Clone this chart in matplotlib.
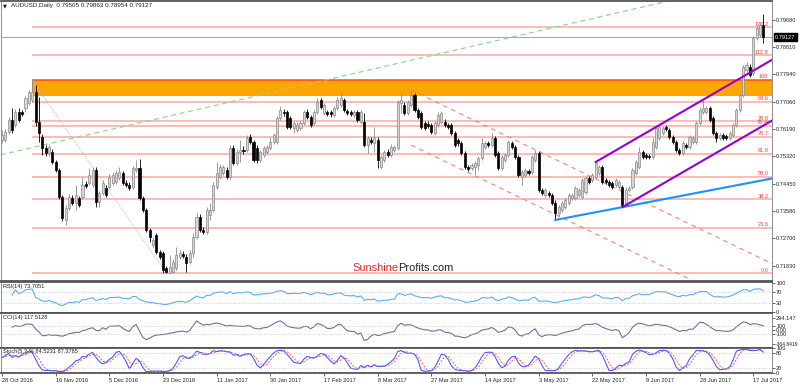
import numpy as np
import pandas as pd
import matplotlib
matplotlib.use("Agg")
import matplotlib.pyplot as plt
from matplotlib.patches import Rectangle
import matplotlib.transforms as mtransforms

plt.rcParams['font.family'] = ['Liberation Sans', 'DejaVu Sans']

# ---------------- data (AUDUSD daily) ----------------
open_ = [.7584,.7584,.7610,.7648,.7632,.7674,.7674,.7686,.7702,.7712,
         .7738,.7642,.7594,.7558,.7542,.7546,.7514,.7488,.7402,.7328,
         .7366,.7398,.7382,.7398,.7402,.7443,.7446,.7440,.7488,.7386,
         .7415,.7430,.7434,.7446,.7450,.7462,.7478,.7446,.7440,.7434,
         .7488,.7494,.7398,.7360,.7296,.7248,.7280,.7226,.7222,.7174,
         .7160,.7163,.7175,.7211,.7220,.7211,.7195,.7223,.7275,.7338,
         .7297,.7290,.7345,.7361,.7434,.7466,.7479,.7489,.7466,.7559,
         .7511,.7546,.7553,.7553,.7594,.7578,.7559,.7521,.7537,.7546,
         .7559,.7578,.7578,.7655,.7674,.7674,.7655,.7623,.7617,.7623,
         .7639,.7674,.7658,.7639,.7674,.7712,.7671,.7674,.7674,.7664,
         .7687,.7696,.7712,.7677,.7674,.7664,.7674,.7642,.7642,.7568,
         .7585,.7575,.7585,.7498,.7521,.7546,.7537,.7553,.7559,.7703,
         .7696,.7671,.7696,.7728,.7680,.7671,.7639,.7636,.7632,.7607,
         .7632,.7642,.7642,.7632,.7632,.7607,.7585,.7575,.7543,.7498,
         .7495,.7498,.7505,.7527,.7562,.7575,.7568,.7591,.7543,.7495,
         .7521,.7537,.7575,.7562,.7530,.7466,.7473,.7486,.7482,.7521,
         .7543,.7425,.7409,.7415,.7409,.7383,.7351,.7361,.7370,.7383,
         .7399,.7399,.7409,.7402,.7418,.7463,.7457,.7466,.7479,.7498,
         .7457,.7450,.7447,.7441,.7434,.7434,.7377,.7425,.7434,.7479,
         .7498,.7546,.7537,.7534,.7530,.7562,.7591,.7607,.7626,.7617,
         .7594,.7578,.7553,.7543,.7568,.7562,.7578,.7578,.7639,.7674,
         .7674,.7687,.7655,.7607,.7591,.7600,.7597,.7591,.7600,.7632,
         .7680,.7728,.7808,.7818,.7799,.7910,.7920,.79505]
high = [.7616,.7619,.7658,.7686,.7683,.7686,.7680,.7725,.7744,.7776,
        .7760,.7722,.7603,.7568,.7571,.7555,.7520,.7494,.7408,.7376,
        .7411,.7408,.7440,.7405,.7466,.7453,.7494,.7498,.7498,.7421,
        .7456,.7440,.7475,.7482,.7488,.7498,.7485,.7456,.7450,.7501,
        .7520,.7523,.7405,.7366,.7302,.7274,.7286,.7232,.7229,.7181,
        .7217,.7204,.7243,.7233,.7230,.7220,.7233,.7287,.7351,.7348,
        .7307,.7370,.7383,.7450,.7514,.7508,.7505,.7498,.7569,.7569,
        .7556,.7585,.7566,.7600,.7604,.7585,.7569,.7553,.7566,.7569,
        .7594,.7607,.7661,.7693,.7684,.7680,.7661,.7645,.7642,.7645,
        .7680,.7684,.7664,.7680,.7719,.7719,.7703,.7680,.7680,.7693,
        .7722,.7738,.7719,.7684,.7680,.7680,.7680,.7680,.7671,.7597,
        .7594,.7626,.7594,.7537,.7553,.7556,.7572,.7569,.7712,.7738,
        .7706,.7712,.7744,.7735,.7687,.7677,.7645,.7645,.7639,.7645,
        .7674,.7677,.7652,.7639,.7639,.7613,.7591,.7581,.7549,.7505,
        .7511,.7518,.7534,.7591,.7581,.7581,.7607,.7597,.7549,.7537,
        .7543,.7585,.7581,.7568,.7537,.7489,.7495,.7492,.7537,.7553,
        .7549,.7431,.7431,.7421,.7415,.7393,.7377,.7389,.7399,.7415,
        .7415,.7437,.7431,.7463,.7470,.7470,.7479,.7514,.7505,.7505,
        .7463,.7457,.7453,.7463,.7457,.7441,.7434,.7437,.7495,.7521,
        .7562,.7553,.7543,.7540,.7591,.7632,.7632,.7629,.7632,.7623,
        .7600,.7585,.7559,.7581,.7575,.7600,.7597,.7645,.7690,.7712,
        .7693,.7693,.7661,.7613,.7607,.7607,.7604,.7613,.7639,.7687,
        .7735,.7824,.7834,.7828,.7917,.7949,.7962,.79863]
low = [.7574,.7578,.7603,.7607,.7626,.7642,.7661,.7674,.7696,.7706,
       .7629,.7578,.7536,.7533,.7533,.7507,.7482,.7395,.7325,.7312,
       .7360,.7376,.7360,.7370,.7395,.7430,.7440,.7434,.7370,.7370,
       .7408,.7402,.7427,.7440,.7443,.7456,.7440,.7434,.7424,.7427,
       .7482,.7392,.7354,.7290,.7258,.7242,.7219,.7203,.7160,.7159,
       .7159,.7160,.7169,.7204,.7207,.7163,.7188,.7211,.7268,.7290,
       .7284,.7284,.7329,.7354,.7428,.7460,.7473,.7460,.7460,.7505,
       .7505,.7514,.7540,.7546,.7572,.7514,.7511,.7514,.7530,.7540,
       .7553,.7572,.7572,.7648,.7661,.7620,.7620,.7607,.7610,.7617,
       .7632,.7652,.7626,.7632,.7668,.7684,.7664,.7661,.7658,.7658,
       .7680,.7690,.7674,.7664,.7661,.7658,.7642,.7636,.7562,.7543,
       .7572,.7546,.7495,.7492,.7514,.7530,.7530,.7546,.7553,.7671,
       .7664,.7664,.7690,.7674,.7652,.7620,.7617,.7623,.7604,.7600,
       .7626,.7636,.7626,.7620,.7600,.7562,.7565,.7537,.7492,.7486,
       .7489,.7473,.7489,.7521,.7556,.7562,.7562,.7530,.7489,.7489,
       .7514,.7530,.7556,.7524,.7466,.7441,.7466,.7473,.7476,.7514,
       .7418,.7409,.7402,.7402,.7377,.7329,.7338,.7354,.7364,.7377,
       .7393,.7393,.7402,.7395,.7412,.7444,.7450,.7460,.7473,.7444,
       .7444,.7434,.7428,.7434,.7428,.7370,.7370,.7418,.7428,.7473,
       .7492,.7524,.7524,.7524,.7524,.7556,.7585,.7600,.7613,.7588,
       .7572,.7546,.7537,.7537,.7556,.7556,.7572,.7572,.7632,.7668,
       .7668,.7642,.7600,.7578,.7585,.7585,.7585,.7585,.7594,.7626,
       .7674,.7722,.7802,.7786,.7792,.7904,.7914,.78954]
close = [.7600,.7610,.7648,.7616,.7674,.7648,.7667,.7718,.7738,.7738,
         .7642,.7606,.7558,.7542,.7562,.7514,.7488,.7402,.7335,.7366,
         .7402,.7382,.7408,.7376,.7440,.7437,.7472,.7488,.7386,.7415,
         .7446,.7408,.7466,.7472,.7478,.7482,.7446,.7440,.7430,.7494,
         .7494,.7398,.7360,.7296,.7274,.7264,.7226,.7210,.7168,.7163,
         .7179,.7195,.7217,.7223,.7214,.7191,.7223,.7275,.7338,.7297,
         .7290,.7361,.7361,.7441,.7479,.7498,.7498,.7466,.7559,.7511,
         .7546,.7553,.7550,.7591,.7578,.7521,.7521,.7546,.7559,.7562,
         .7578,.7600,.7655,.7680,.7671,.7626,.7626,.7639,.7632,.7639,
         .7674,.7658,.7632,.7674,.7706,.7690,.7696,.7667,.7668,.7687,
         .7712,.7719,.7680,.7671,.7668,.7674,.7648,.7674,.7568,.7591,
         .7578,.7594,.7521,.7530,.7546,.7537,.7562,.7562,.7706,.7712,
         .7671,.7706,.7728,.7680,.7658,.7626,.7623,.7629,.7610,.7639,
         .7664,.7671,.7632,.7626,.7607,.7568,.7575,.7543,.7498,.7492,
         .7505,.7511,.7527,.7575,.7575,.7568,.7591,.7537,.7495,.7530,
         .7537,.7578,.7562,.7530,.7473,.7482,.7489,.7479,.7530,.7543,
         .7425,.7415,.7425,.7409,.7383,.7351,.7370,.7383,.7393,.7409,
         .7409,.7431,.7425,.7457,.7463,.7450,.7473,.7511,.7498,.7450,
         .7450,.7441,.7434,.7457,.7450,.7377,.7425,.7431,.7489,.7514,
         .7546,.7530,.7530,.7530,.7578,.7623,.7626,.7623,.7620,.7594,
         .7578,.7553,.7543,.7575,.7562,.7594,.7591,.7639,.7680,.7687,
         .7687,.7648,.7607,.7591,.7600,.7591,.7591,.7607,.7632,.7680,
         .7728,.7818,.7824,.7792,.7910,.7942,.7952,.79127]

date_labels = ["28 Oct 2016", "16 Nov 2016", "5 Dec 2016", "23 Dec 2016",
               "11 Jan 2017", "30 Jan 2017", "17 Feb 2017", "8 Mar 2017",
               "27 Mar 2017", "14 Apr 2017", "3 May 2017", "22 May 2017",
               "9 Jun 2017", "28 Jun 2017", "17 Jul 2017"]
date_label_bars = [0, 16, 32, 48, 64, 80, 96, 112, 128, 144, 160, 176, 192, 208, 224]

price_ticks = [0.79680, 0.78810, 0.77940, 0.77060, 0.76190,
               0.75320, 0.74450, 0.73580, 0.72700, 0.71830]

fib_levels = [0.0, 23.6, 38.2, 50.0, 61.8, 70.7, 76.4, 78.6, 88.6, 100.0, 112.8, 127.2]
fib_texts = ["0.0", "23.6", "38.2", "50.0", "61.8", "70.7", "76.4", "78.6", "88.6", "100", "112.8", "127.2"]
fib_high_bar = 9
fib_low_bar = 49
zone_bottom = 0.7726

green_line = [(0, 0.7538), (150, 0.7908)]
blue_line = [(165, 0.7329), (185, 0.7370)]
purple_upper = [(177, 0.7514), (220, 0.7781)]
purple_lower = [(185, 0.7370), (220, 0.7587)]
red_upper = [(122, 0.7744), (200, 0.7342)]
red_lower = [(122, 0.7568), (200, 0.7166)]

last_price = 0.79127
title_text = "AUDUSD,Daily  0.79505 0.79863 0.78954 0.79127"

# ---------------- indicators from the price data ----------------
Hh = pd.Series(high); Ll = pd.Series(low); C = pd.Series(close)
n = len(C)
x = np.arange(n)

d = C.diff()
gain = d.clip(lower=0); loss = -d.clip(upper=0)
ag = gain.ewm(alpha=1/14, adjust=True, min_periods=1).mean()
al = loss.ewm(alpha=1/14, adjust=True, min_periods=1).mean()
rsi = 100 - 100 / (1 + ag / al.replace(0, np.nan))

tp = (Hh + Ll + C) / 3
sma = tp.rolling(14, min_periods=4).mean()
md = tp.rolling(14, min_periods=4).apply(lambda v: np.mean(np.abs(v - v.mean())), raw=True)
cci = (tp - sma) / (0.015 * md)

ll5 = Ll.rolling(5, min_periods=1).min(); hh5 = Hh.rolling(5, min_periods=1).max()
stk = 100 * (C - ll5).rolling(3, min_periods=1).sum() / (hh5 - ll5).rolling(3, min_periods=1).sum()
std = stk.rolling(3, min_periods=1).mean()

# ---------------- figure ----------------
W, H = 800, 386
fig = plt.figure(figsize=(W / 100, H / 100), dpi=100)

def rect(x0, y0, x1, y1):
    return [x0 / W, 1 - y1 / H, (x1 - x0) / W, (y1 - y0) / H]

ax = fig.add_axes(rect(0.5, 0.5, 772, 281))
ax_rsi = fig.add_axes(rect(0.5, 282, 772, 312.5), sharex=ax)
ax_cci = fig.add_axes(rect(0.5, 313, 772, 347.5), sharex=ax)
ax_sto = fig.add_axes(rect(0.5, 348, 772, 373), sharex=ax)

XL = (-0.45, 229.6)
FS = 4.1
for a in (ax, ax_rsi, ax_cci, ax_sto):
    a.set_xlim(*XL)
    a.yaxis.tick_right()
    a.tick_params(axis='y', labelsize=FS, length=2, pad=1.0, colors='#222222', width=0.5)
    for s in a.spines.values():
        s.set_color('#8c8c8c'); s.set_linewidth(0.7)
    a.spines['top'].set_color('#555555'); a.spines['top'].set_linewidth(1.3)
    a.spines['bottom'].set_color('#555555'); a.spines['bottom'].set_linewidth(1.3)
    a.set_facecolor('white')
for a in (ax, ax_rsi, ax_cci):
    a.tick_params(axis='x', bottom=False, labelbottom=False)

# main panel
ax.set_ylim(0.7134, 0.8030)
ax.set_yticks(price_ticks)
ax.set_yticklabels([f"{p:.5f}" for p in price_ticks])

x_end = XL[1]
ph = high[fib_high_bar]; pl = low[fib_low_bar]

# orange zone
ax.add_patch(Rectangle((fib_high_bar, zone_bottom), x_end - fib_high_bar, ph - zone_bottom,
                       facecolor='#ffa500', edgecolor='none', zorder=1))

# fib lines
for lv, tx in zip(fib_levels, fib_texts):
    p = pl + lv / 100 * (ph - pl)
    col = '#ff4a1a' if lv == 100 else '#ffa6a6'
    ax.plot([fib_high_bar, x_end], [p, p], color=col, lw=1.1, zorder=1.5, solid_capstyle='butt')
    ax.text(228.5, p + 0.0002, tx, color='#ff3b3b', fontsize=4.1, ha='right', va='bottom', zorder=5)
ax.plot([fib_high_bar, fib_low_bar], [ph, pl], color='#b5b5b5', lw=0.7, ls=(0, (1, 1.5)), zorder=1.6)

# current price line
ax.axhline(last_price, color='#a8a8a8', lw=0.8, zorder=1.4)

def ray(pts, x0=None, **kw):
    (xa, ya), (xb, yb) = pts
    s = (yb - ya) / (xb - xa)
    xs = xa if x0 is None else x0
    ax.plot([xs, x_end], [ya + s * (xs - xa), ya + s * (x_end - xa)], **kw)

ray(green_line, x0=XL[0], color='#8fd88f', lw=0.9, ls=(0, (4, 3)), zorder=1.7)
ray(red_upper, color='#ff7b7b', lw=0.8, ls=(0, (4, 4)), zorder=1.7)
ray(red_lower, color='#ff7b7b', lw=0.8, ls=(0, (4, 4)), zorder=1.7)

# candles
Oa = np.array(open_); Ca = np.array(close); Ha = np.array(high); La = np.array(low)
up = Ca >= Oa
ax.vlines(x[up], La[up], Ha[up], color='#8a8a8a', lw=0.6, zorder=3)
ax.vlines(x[~up], La[~up], Ha[~up], color='#000000', lw=0.6, zorder=3)
bot = np.minimum(Oa, Ca); hgt = np.maximum(np.abs(Ca - Oa), 0.00008)
ax.bar(x[up], hgt[up], bottom=bot[up], width=0.62, color='#d6d6d6', edgecolor='#8a8a8a',
       linewidth=0.5, zorder=3.2)
ax.bar(x[~up], hgt[~up], bottom=bot[~up], width=0.62, color='#000000', edgecolor='#000000',
       linewidth=0.5, zorder=3.2)

ray(blue_line, color='#1e90ff', lw=1.5, zorder=4)
ray(purple_upper, color='#9400d3', lw=1.5, zorder=4)
ray(purple_lower, color='#9400d3', lw=1.5, zorder=4)

# price box
trans = mtransforms.blended_transform_factory(ax.transAxes, ax.transData)
ax.text(1.004, last_price, f"{last_price:.5f}", transform=trans, fontsize=FS, color='white',
        ha='left', va='center', zorder=6, clip_on=False,
        bbox=dict(boxstyle='square,pad=0.25', facecolor='black', edgecolor='black'))

# title
ax.text(0.003, 0.988, "\u25bc", transform=ax.transAxes, fontsize=3.6, ha='left', va='top',
        family=['DejaVu Sans'], color='#111111')
ax.text(0.013, 0.99, title_text, transform=ax.transAxes, fontsize=4.5, ha='left', va='top',
        color='#222222')

# watermark
ax.text(0.5155, 0.046, "Sunshine", transform=ax.transAxes, color='#e3262b', fontsize=7.9,
        ha='right', va='center', zorder=5)
ax.text(0.5155, 0.046, "Profits.com", transform=ax.transAxes, color='#222222', fontsize=7.9,
        ha='left', va='center', zorder=5)

# RSI
ax_rsi.set_ylim(-3.5, 104)
ax_rsi.plot(x, rsi, color='#5aaef0', lw=0.8)
for lv in (70, 30):
    ax_rsi.axhline(lv, color='#c0c0c0', lw=0.6, ls=(0, (1, 2)))
ax_rsi.set_yticks([100, 70, 30, 0]); ax_rsi.set_yticklabels(['100', '70', '30', '0'])
ax_rsi.text(0.003, 0.93, "RSI(14) 73.7051", transform=ax_rsi.transAxes, fontsize=FS,
            ha='left', va='top', color='#222222')

# CCI
ax_cci.set_ylim(-455, 430)
ax_cci.plot(x, cci, color='#6f6f9f', lw=0.8)
for lv in (100, -100):
    ax_cci.axhline(lv, color='#c0c0c0', lw=0.6, ls=(0, (1, 2)))
ax_cci.set_yticks([294.147, 100, 0, -100, -364.8419])
ax_cci.set_yticklabels(['294.147', '100', '0.00', '-100', '-364.8419'])
ax_cci.get_yticklabels()[-1].set_fontsize(3.6)
ax_cci.text(0.003, 0.93, "CCI(14) 117.5128", transform=ax_cci.transAxes, fontsize=FS,
            ha='left', va='top', color='#222222')

# Stochastic
ax_sto.set_ylim(-2, 102)
ax_sto.plot(x, std, color='#ff5a5a', lw=0.7, ls=(0, (2, 1.5)))
ax_sto.plot(x, stk, color='#5555ff', lw=0.8)
for lv in (80, 20):
    ax_sto.axhline(lv, color='#c0c0c0', lw=0.6, ls=(0, (1, 2)))
ax_sto.set_yticks([100, 80, 20, 0]); ax_sto.set_yticklabels(['100', '80', '20', '0'])
ax_sto.text(0.003, 0.97, "Stoch(5,3,3) 84.5231 87.3785", transform=ax_sto.transAxes,
            fontsize=FS, ha='left', va='top', color='#222222')

ax_sto.set_xticks(date_label_bars)
ax_sto.set_xticklabels(date_labels)
ax_sto.tick_params(axis='x', labelsize=FS, length=2, pad=1.5, colors='#222222', width=0.5)
for lab in ax_sto.get_xticklabels():
    lab.set_horizontalalignment('left')

fig.savefig("out.png", dpi=100, facecolor='white')
